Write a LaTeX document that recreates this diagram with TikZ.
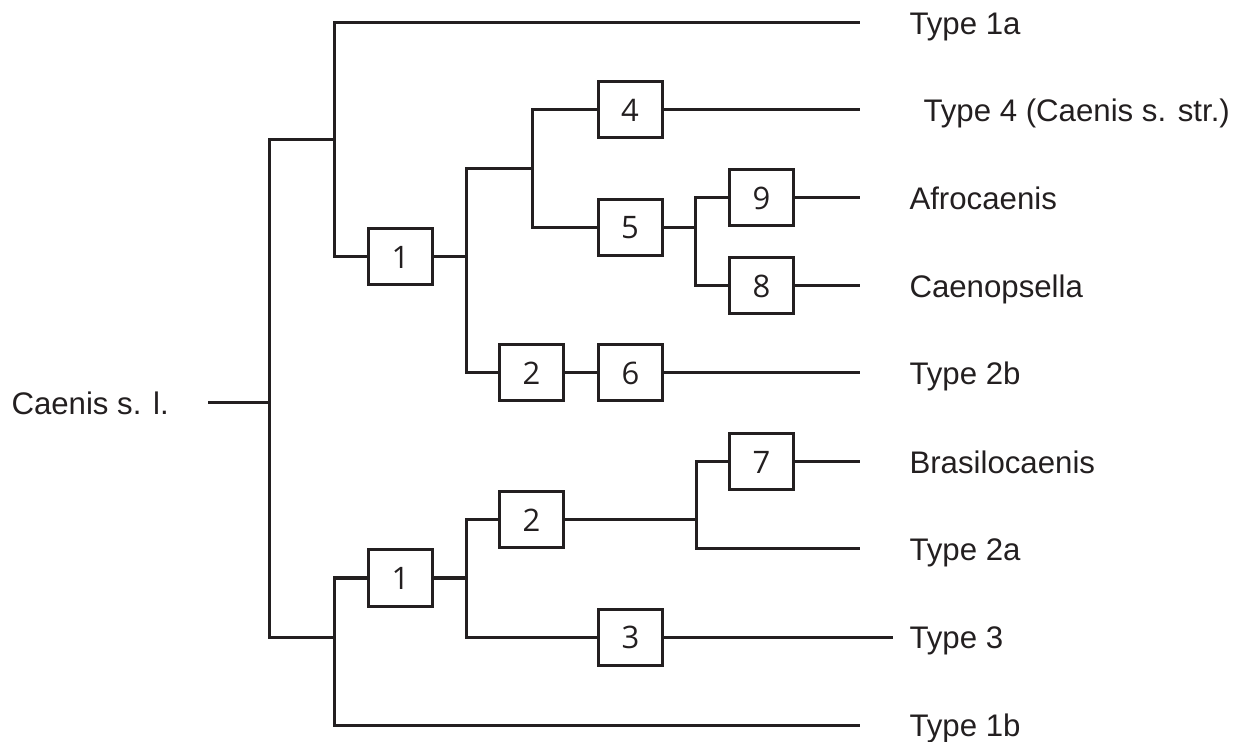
\documentclass[tikz,border=0pt]{standalone}
\usepackage{fontspec}
\setmainfont{Liberation Sans}
\newfontfamily\digitfont{Open Sans}
\definecolor{ink}{HTML}{231F20}

\begin{document}
\begin{tikzpicture}[x=0.5pt,y=-0.5pt,line width=1.5pt,color=ink,
  char/.style={draw,minimum width=32pt,minimum height=28pt,inner sep=0pt,font=\digitfont\fontsize{15.5}{15.5}\selectfont},
  taxon/.style={anchor=west,inner sep=0pt,text height=11.2pt,text depth=0pt,font=\fontsize{15.6}{18}\selectfont},
  leaf/.style={shorten >=24pt}]
  \useasboundingbox (0,0) rectangle (1247,742);
  % terminal taxa
  \node[taxon] (root) at (10,403) {Caenis s. l.};
  \node[taxon] (t1a) at (908,23) {Type 1a};
  \node[taxon] (t4) at (922,110) {Type 4 (Caenis s. str.)};
  \node[taxon] (tafro) at (908,198) {Afrocaenis};
  \node[taxon] (tcaeno) at (908,286) {Caenopsella};
  \node[taxon] (t2b) at (908,373) {Type 2b};
  \node[taxon] (tbras) at (908,462) {Brasilocaenis};
  \node[taxon] (t2a) at (908,549) {Type 2a};
  \node[taxon] (t3) at (908,637) {Type 3};
  \node[taxon] (t1b) at (908,725) {Type 1b};
  % character boxes
  \node[char] (u1) at (400.5,257) {1};
  \node[char] (u4) at (630,110) {4};
  \node[char] (u5) at (630,228) {5};
  \node[char] (u9) at (761.5,198) {9};
  \node[char] (u8) at (761.5,286) {8};
  \node[char] (u2) at (531.5,373) {2};
  \node[char] (u6) at (630.5,373) {6};
  \node[char] (l1) at (400.5,578) {1};
  \node[char] (l2) at (531.5,520) {2};
  \node[char] (l7) at (761.5,462) {7};
  \node[char] (l3) at (630.5,637) {3};
  % branch points
  \coordinate (j0) at (269,403);
  \coordinate (jA) at (334,140);
  \coordinate (jB) at (334,637);
  \coordinate (jC) at (466,257);
  \coordinate (jD) at (532,169);
  \coordinate (jE) at (695,228);
  \coordinate (jF) at (466,578);
  \coordinate (jG) at (696,520);
  % root
  \draw[shorten <=19pt] (root.east) -- (j0);
  \draw (j0) |- (jA);
  \draw (j0) |- (jB);
  % upper clade
  \draw[leaf] (jA) |- (t1a.west);
  \draw (jA) |- (u1);
  \draw (u1) -- (jC);
  \draw (jC) |- (jD);
  \draw (jC) |- (u2);
  \draw (u2) -- (u6);
  \draw[leaf] (u6) -- (t2b.west);
  \draw (jD) |- (u4);
  \draw (jD) |- (u5);
  \draw[shorten >=31pt] (u4) -- (t4.west);
  \draw (u5) -- (jE);
  \draw (jE) |- (u9);
  \draw (jE) |- (u8);
  \draw[leaf] (u9) -- (tafro.west);
  \draw[leaf] (u8) -- (tcaeno.west);
  % lower clade
  \draw (jB) |- (l1);
  \draw[leaf] (jB) |- (t1b.west);
  \draw (l1) -- (jF);
  \draw (jF) |- (l2);
  \draw (jF) |- (l3);
  \draw[shorten >=7.5pt] (l3) -- (t3.west);
  \draw (l2) -- (jG);
  \draw (jG) |- (l7);
  \draw[leaf] (jG) |- (t2a.west);
  \draw[leaf] (l7) -- (tbras.west);
\end{tikzpicture}
\end{document}
